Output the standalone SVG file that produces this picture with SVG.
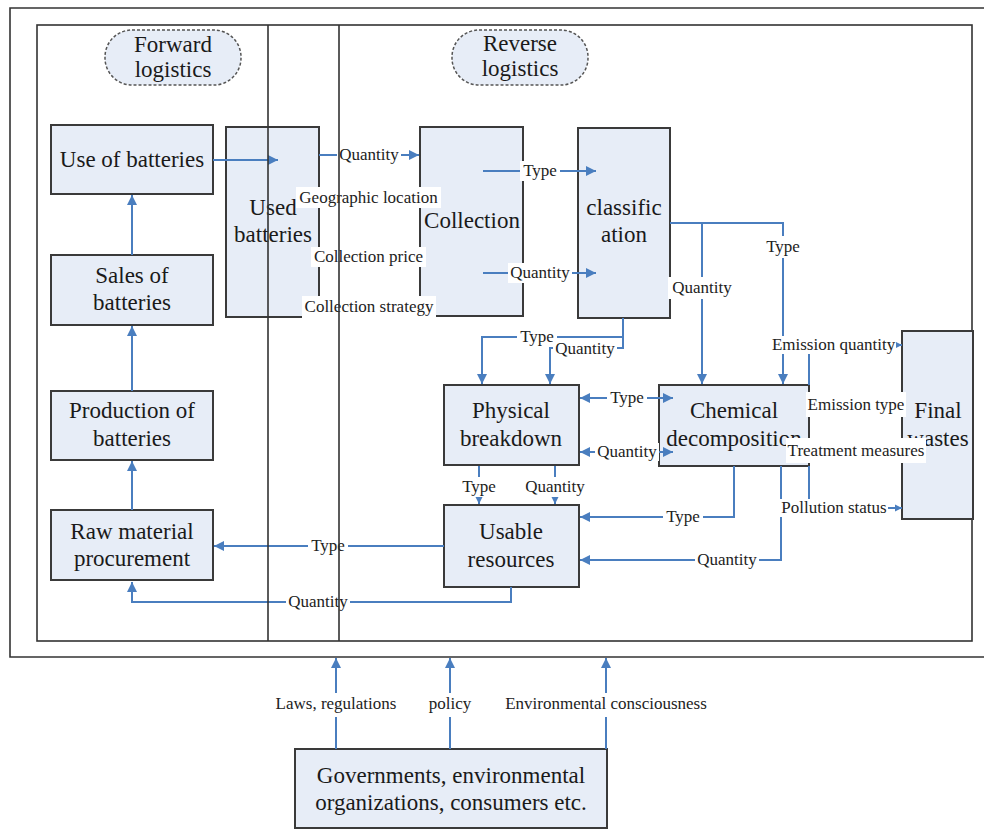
<svg xmlns="http://www.w3.org/2000/svg" width="984" height="830" viewBox="0 0 984 830">
<style>
.box{fill:#e7edf7;stroke:#3a3a3a;stroke-width:2}
.bt{font-family:'Liberation Serif','Times New Roman','DejaVu Serif',serif;font-size:23px;fill:#1a1a1a;text-anchor:middle}
.pill{fill:#e7edf7;stroke:#555;stroke-width:1.5;stroke-dasharray:3 2}
.c{fill:none;stroke:#4a7ebf;stroke-width:2}
.lb rect{fill:#fff;stroke:none}
.lb text{font-family:'Liberation Serif','Times New Roman','DejaVu Serif',serif;font-size:17px;fill:#222;text-anchor:middle}
.fr{fill:none;stroke:#333;stroke-width:1.6}
</style>
<defs>
<marker id="a" markerUnits="userSpaceOnUse" markerWidth="11" markerHeight="10" refX="10" refY="5" orient="auto-start-reverse"><path d="M0,0 L10,5 L0,10 z" fill="#4a7ebf"/></marker>
<marker id="as" markerUnits="userSpaceOnUse" markerWidth="8" markerHeight="8" refX="7" refY="4" orient="auto"><path d="M0,0.5 L7,4 L0,7.5 z" fill="#4a7ebf"/></marker>
</defs>
<rect width="984" height="830" fill="#fff"/>
<g id="frame">
<path class="fr" d="M990,8 H10 V657 H990"/>
<rect class="fr" x="37" y="25" width="935" height="616"/>
</g>
<g font-family="Liberation Serif, Times New Roman, DejaVu Serif, serif">
<g id="forward-logistics"><rect class="pill" x="105" y="30" width="136" height="55" rx="27"/><text class="bt" x="173" y="52">Forward</text><text class="bt" x="173" y="77">logistics</text></g>
<g id="reverse-logistics"><rect class="pill" x="452" y="30" width="136" height="55" rx="27"/><text class="bt" x="520" y="51">Reverse</text><text class="bt" x="520" y="76">logistics</text></g>
<g id="use"><rect class="box" x="51" y="125" width="162" height="69"/><text class="bt" x="132" y="167">Use of batteries</text></g>
<g id="sales"><rect class="box" x="51" y="255" width="162" height="70"/><text class="bt" x="132" y="283">Sales of</text><text class="bt" x="132" y="310">batteries</text></g>
<g id="production"><rect class="box" x="51" y="391" width="162" height="69"/><text class="bt" x="132" y="418">Production of</text><text class="bt" x="132" y="446">batteries</text></g>
<g id="raw"><rect class="box" x="51" y="510" width="162" height="70"/><text class="bt" x="132" y="539">Raw material</text><text class="bt" x="132" y="566">procurement</text></g>
<g id="used"><rect class="box" x="226" y="127" width="93" height="190"/><text class="bt" x="273" y="215">Used</text><text class="bt" x="273" y="242">batteries</text></g>
<g id="collection"><rect class="box" x="420" y="127" width="103" height="189"/><text class="bt" x="472" y="228">Collection</text></g>
<g id="classification"><rect class="box" x="578" y="128" width="92" height="190"/><text class="bt" x="624" y="215">classific</text><text class="bt" x="624" y="242">ation</text></g>
<g id="physical"><rect class="box" x="444" y="385" width="135" height="80"/><text class="bt" x="511" y="418">Physical</text><text class="bt" x="511" y="446">breakdown</text></g>
<g id="chemical"><rect class="box" x="659" y="385" width="150" height="81"/><text class="bt" x="734" y="418">Chemical</text><text class="bt" x="734" y="446">decomposition</text></g>
<g id="final"><rect class="box" x="902" y="331" width="71" height="188"/><text class="bt" x="938" y="418">Final</text><text class="bt" x="938" y="446">wastes</text></g>
<g id="usable"><rect class="box" x="444" y="505" width="135" height="82"/><text class="bt" x="511" y="539">Usable</text><text class="bt" x="511" y="567">resources</text></g>
<g id="governments"><rect class="box" x="295" y="749" width="312" height="79"/><text class="bt" x="451" y="783">Governments, environmental</text><text class="bt" x="451" y="810">organizations, consumers etc.</text></g>
<g id="connectors">
<path class="c" d="M213,160 H278" marker-end="url(#a)"/>
<path class="c" d="M319,155 H419" marker-end="url(#a)"/>
<path class="c" d="M483,171 H596" marker-end="url(#a)"/>
<path class="c" d="M483,273 H596" marker-end="url(#a)"/>
<path class="c" d="M623,318 V348 H550 V384" marker-end="url(#a)"/>
<path class="c" d="M623,337 H482 V384" marker-end="url(#a)"/>
<path class="c" d="M670,223 H783 V384" marker-end="url(#a)"/>
<path class="c" d="M702,223 V384" marker-end="url(#a)"/>
<path class="c" d="M580,398 H673" marker-start="url(#a)" marker-end="url(#a)"/>
<path class="c" d="M580,452 H673" marker-start="url(#a)" marker-end="url(#a)"/>
<path class="c" d="M479,466 V504" marker-end="url(#a)"/>
<path class="c" d="M555,466 V504" marker-end="url(#a)"/>
<path class="c" d="M734,466 V517 H580" marker-end="url(#a)"/>
<path class="c" d="M781,466 V560 H580" marker-end="url(#a)"/>
<path class="c" d="M809,385 V345 H902" marker-end="url(#as)"/>
<path class="c" d="M809,466 V508 H902" marker-end="url(#as)"/>
<path class="c" d="M444,546 H214" marker-end="url(#a)"/>
<path class="c" d="M511,587 V602 H132 V582" marker-end="url(#a)"/>
<path class="c" d="M132,510 V461" marker-end="url(#a)"/>
<path class="c" d="M132,391 V326" marker-end="url(#a)"/>
<path class="c" d="M132,255 V195" marker-end="url(#a)"/>
<path class="c" d="M336,749 V658" marker-end="url(#a)"/>
<path class="c" d="M450,749 V658" marker-end="url(#a)"/>
<path class="c" d="M606,749 V658" marker-end="url(#a)"/>
<g class="lb"><rect x="337" y="145" width="64" height="20"/><text x="369" y="160">Quantity</text></g>
<g class="lb"><rect x="296" y="187" width="145" height="21"/><text x="368.5" y="203">Geographic location</text></g>
<g class="lb"><rect x="311" y="247" width="115" height="20"/><text x="368.5" y="262">Collection price</text></g>
<g class="lb"><rect x="302" y="296" width="134" height="23"/><text x="369" y="312">Collection strategy</text></g>
<g class="lb"><rect x="520" y="161" width="40" height="20"/><text x="540" y="176">Type</text></g>
<g class="lb"><rect x="508" y="263" width="64" height="20"/><text x="540" y="278">Quantity</text></g>
<g class="lb"><rect x="517" y="328" width="40" height="18"/><text x="537" y="342">Type</text></g>
<g class="lb"><rect x="553" y="340" width="64" height="18"/><text x="585" y="354">Quantity</text></g>
<g class="lb"><rect x="763" y="236" width="40" height="22"/><text x="783" y="252">Type</text></g>
<g class="lb"><rect x="668" y="277" width="67" height="22"/><text x="702" y="293">Quantity</text></g>
<g class="lb"><rect x="607" y="389" width="40" height="18"/><text x="627" y="403">Type</text></g>
<g class="lb"><rect x="595" y="443" width="64" height="18"/><text x="627" y="457">Quantity</text></g>
<g class="lb"><rect x="459" y="477" width="40" height="20"/><text x="479" y="492">Type</text></g>
<g class="lb"><rect x="523" y="477" width="64" height="20"/><text x="555" y="492">Quantity</text></g>
<g class="lb"><rect x="663" y="507" width="40" height="20"/><text x="683" y="522">Type</text></g>
<g class="lb"><rect x="695" y="550" width="64" height="20"/><text x="727" y="565">Quantity</text></g>
<g class="lb"><rect x="771" y="336" width="125" height="18"/><text x="833.5" y="350">Emission quantity</text></g>
<g class="lb"><rect x="806" y="392" width="100" height="25"/><text x="856" y="410">Emission type</text></g>
<g class="lb"><rect x="786" y="438" width="140" height="25"/><text x="856" y="456">Treatment measures</text></g>
<g class="lb"><rect x="780" y="499" width="108" height="18"/><text x="834" y="513">Pollution status</text></g>
<g class="lb"><rect x="308" y="537" width="40" height="18"/><text x="328" y="551">Type</text></g>
<g class="lb"><rect x="286" y="593" width="64" height="18"/><text x="318" y="607">Quantity</text></g>
<g class="lb"><rect x="274" y="693" width="124" height="24"/><text x="336" y="709">Laws, regulations</text></g>
<g class="lb"><rect x="427" y="693" width="46" height="24"/><text x="450" y="709">policy</text></g>
<g class="lb"><rect x="503" y="693" width="206" height="24"/><text x="606" y="709">Environmental consciousness</text></g>
</g>
</g>
<g id="lanes">
<path class="fr" d="M268,25 V641 M339,25 V641"/>
</g>
</svg>
